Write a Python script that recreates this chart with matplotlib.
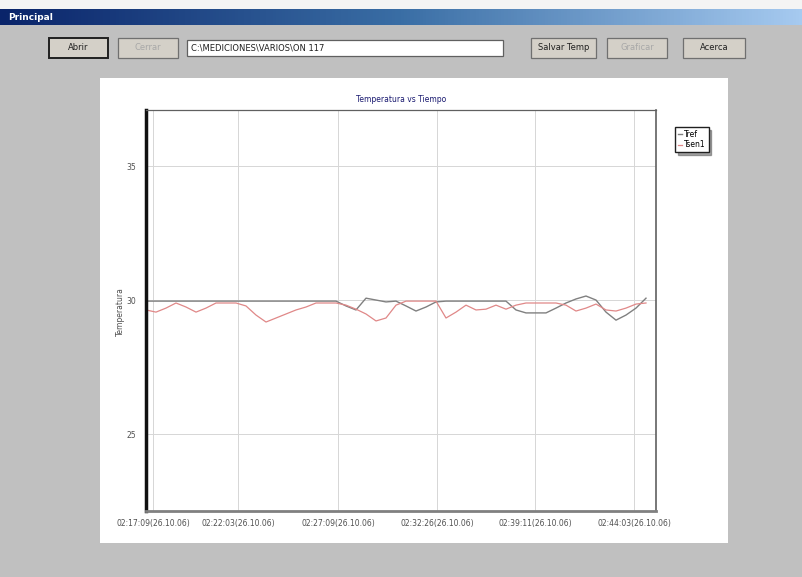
import matplotlib.pyplot as plt
import numpy as np
from matplotlib.patches import Rectangle

W, H = 802, 577

# tick labels along the sample axis
tick_labels = [
    "02:17:09(26.10.06)", "02:22:03(26.10.06)", "02:27:09(26.10.06)",
    "02:32:26(26.10.06)", "02:39:11(26.10.06)", "02:44:03(26.10.06)",
]
tick_samples = [0.7, 9.2, 19.2, 29.1, 38.9, 48.8]
y_ticks = [25, 30, 35]

# temperatures (one sample per step)
tref = [29.96, 29.96, 29.96, 29.96, 29.96, 29.96, 29.96, 29.96, 29.96, 29.96,
        29.96, 29.96, 29.96, 29.96, 29.96, 29.96, 29.96, 29.96, 29.96, 29.96,
        29.78, 29.63, 30.07, 30.00, 29.93, 29.96, 29.78, 29.59, 29.74, 29.93,
        29.96, 29.96, 29.96, 29.96, 29.96, 29.96, 29.96, 29.63, 29.52, 29.52,
        29.52, 29.70, 29.89, 30.04, 30.15, 30.00, 29.55, 29.25, 29.44, 29.70,
        30.07]
tsen = [29.63, 29.55, 29.70, 29.89, 29.74, 29.55, 29.70, 29.89, 29.89, 29.89,
        29.78, 29.44, 29.18, 29.33, 29.48, 29.63, 29.74, 29.89, 29.89, 29.89,
        29.81, 29.66, 29.48, 29.22, 29.33, 29.81, 29.96, 29.96, 29.96, 29.96,
        29.33, 29.55, 29.81, 29.63, 29.66, 29.81, 29.66, 29.81, 29.89, 29.89,
        29.89, 29.89, 29.81, 29.59, 29.70, 29.85, 29.63, 29.59, 29.70, 29.85,
        29.89]
series_names = ["Tref", "Tsen1"]


def fx(x):
    return x / W


def fy(y):
    return 1 - y / H


fig = plt.figure(figsize=(W / 100, H / 100), dpi=100)
fig.patch.set_facecolor("#c0c0c0")

# window chrome
fig.add_artist(Rectangle((0, fy(9)), 1, 9 / H, transform=fig.transFigure,
                         facecolor="#f4f4f4", edgecolor="none", zorder=-1))
grad = np.linspace(0, 1, 256).reshape(1, -1)
bar = fig.add_axes([0, fy(25), 1, 16 / H])
bar.imshow(grad, aspect="auto", extent=[0, 1, 0, 1],
           cmap=plt.matplotlib.colors.LinearSegmentedColormap.from_list(
               "tb", ["#0a246a", "#3a6ea5", "#a6caf0"]))
bar.axis("off")
fig.text(fx(8), fy(17), "Principal", color="white", fontsize=6.5,
         fontweight="bold", va="center")


def button(x0, x1, label, enabled=True, default=False):
    y0, y1 = 38, 58
    fig.add_artist(Rectangle((fx(x0), fy(y1)), (x1 - x0) / W, (y1 - y0) / H,
                             transform=fig.transFigure, facecolor="#d4d0c8",
                             edgecolor="#202020" if default else "#707070",
                             linewidth=1.4 if default else 0.9, zorder=-1))
    fig.text(fx((x0 + x1) / 2), fy(48), label, ha="center", va="center",
             fontsize=6, color="#202020" if enabled else "#a8a8a8")


button(49, 108, "Abrir", default=True)
button(118, 178, "Cerrar", enabled=False)
fig.add_artist(Rectangle((fx(187), fy(56)), (503 - 187) / W, 16 / H,
                         transform=fig.transFigure, facecolor="white",
                         edgecolor="#606060", linewidth=0.9, zorder=-1))
fig.text(fx(191), fy(48), "C:\\MEDICIONES\\VARIOS\\ON 117", fontsize=6,
         va="center", color="#202020")
button(531, 596, "Salvar Temp")
button(607, 667, "Graficar", enabled=False)
button(683, 745, "Acerca")

# white chart panel (behind the plot axes)
fig.add_artist(Rectangle((fx(100), fy(543)), (728 - 100) / W, (543 - 78) / H,
                         transform=fig.transFigure, facecolor="white",
                         edgecolor="none", zorder=-1))

ax = fig.add_axes([fx(146), fy(511), (656 - 146) / W, (511 - 110) / H])
x = np.arange(len(tref))
ax.plot(x, tref, color="#808080", linewidth=1.0, label=series_names[0])
ax.plot(x, tsen, color="#e08888", linewidth=0.9, label=series_names[1])

ax.set_xlim(0, 51)
ax.set_ylim(22.13, 37.09)
ax.set_xticks(tick_samples)
ax.set_xticklabels(tick_labels, fontsize=5.5, color="#505050")
ax.set_yticks(y_ticks)
ax.set_yticklabels([str(v) for v in y_ticks], fontsize=5.5, color="#505050")
ax.tick_params(axis="x", length=0, pad=6)
ax.tick_params(axis="y", length=0, pad=7)
ax.grid(True, color="#d6d6d6", linewidth=0.7)
ax.set_axisbelow(True)

ax.spines["left"].set_linewidth(2.5)
ax.spines["left"].set_color("#101010")
ax.spines["bottom"].set_linewidth(2.0)
ax.spines["bottom"].set_color("#808080")
ax.spines["top"].set_linewidth(0.9)
ax.spines["top"].set_color("#606060")
ax.spines["right"].set_linewidth(1.2)
ax.spines["right"].set_color("#606060")

ax.set_title("Temperatura vs Tiempo", fontsize=5.5, color="#1a1a70", pad=6)
fig.text(fx(120), fy(312), "Temperatura", rotation=90, fontsize=5.5,
         color="#505050", ha="center", va="center")

leg = ax.legend(loc="upper left", bbox_to_anchor=(fx(671), fy(123)),
                bbox_transform=fig.transFigure, fontsize=5.5, handlelength=0.5,
                handletextpad=0.3, borderpad=0.4, labelspacing=0.2,
                fancybox=False, shadow=True, framealpha=1)
leg.get_frame().set_edgecolor("#202020")

fig.savefig("out.png", dpi=100)
